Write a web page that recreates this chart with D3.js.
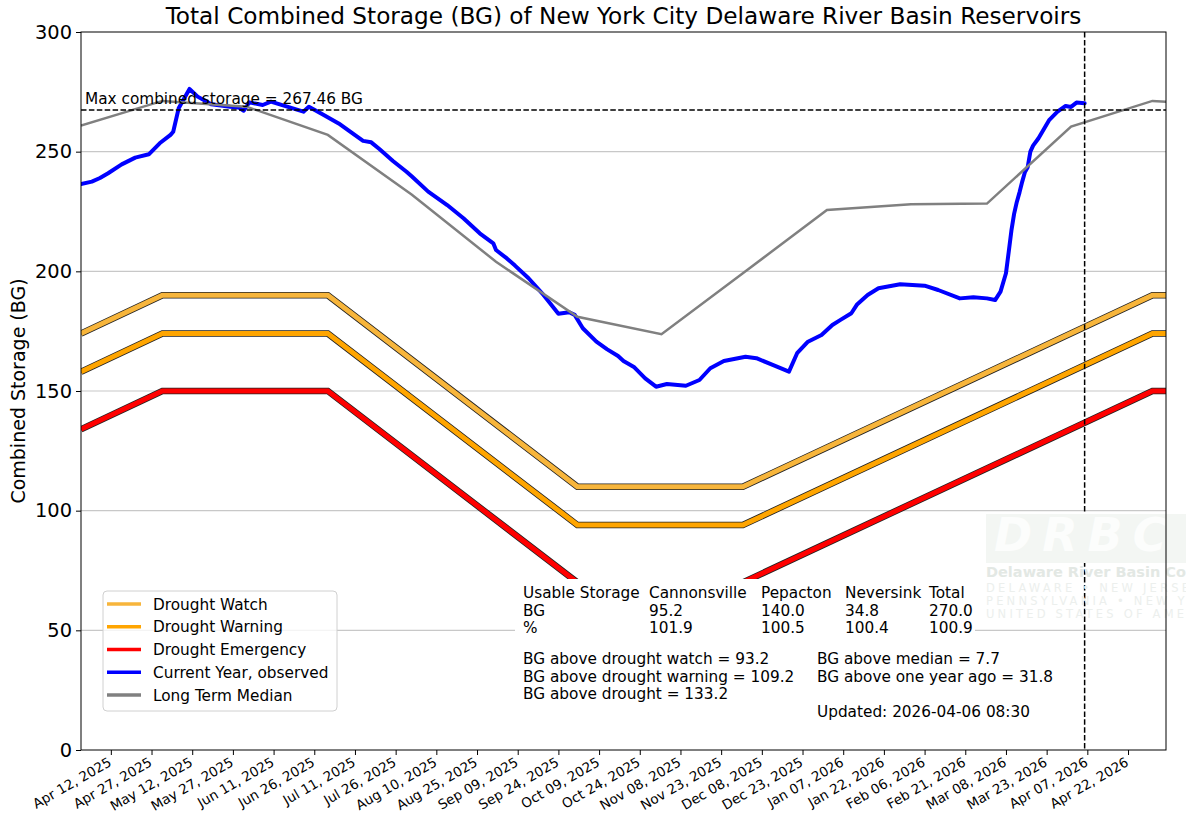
<!DOCTYPE html>
<html>
<head>
<meta charset="utf-8">
<script src="https://cdn.jsdelivr.net/npm/d3@7"></script>
<style>
body { margin:0; background:#fff; }
svg text { font-family: "DejaVu Sans", sans-serif; }
</style>
</head>
<body>
<div id="chart"></div>
<script>
const W = 1186, H = 817;
const m = {left: 81, right: 1166, top: 32, bottom: 750};
const parse = d3.utcParse('%Y-%m-%d');

// drought rule curves (BG)
const droughtDates = ['2025-04-01','2025-05-01','2025-07-01','2025-10-01','2025-12-01','2026-05-01','2026-06-01'];
const watchBG     = [174, 190, 190, 110, 110, 190, 190];
const warningBG   = [158, 174, 174,  94,  94, 174, 174];
const emergencyBG = [134, 150, 150,  70,  70, 150, 150];

// long term median (BG)
const medianDates = ['2025-04-01','2025-05-01','2025-06-01','2025-07-01','2025-08-01','2025-09-01','2025-10-01',
	'2025-11-01','2025-12-01','2026-01-01','2026-02-01','2026-03-01','2026-04-01','2026-05-01','2026-06-01'];
const medianBG = [260.9, 271.2, 268.8, 257.0, 232.0, 204.0, 181.0, 173.7, 199.2, 225.6, 228.0, 228.3, 260.5, 271.2, 268.8];

// current year, observed (BG)
const obsDates = ['2025-04-01','2025-04-05','2025-04-08','2025-04-11','2025-04-16','2025-04-21','2025-04-26','2025-04-30',
	'2025-05-04','2025-05-05','2025-05-07','2025-05-11','2025-05-14','2025-05-19','2025-05-26','2025-05-29','2025-05-31',
	'2025-06-02','2025-06-07','2025-06-10','2025-06-16','2025-06-22','2025-06-24','2025-06-29',
	'2025-07-05','2025-07-10','2025-07-14','2025-07-17','2025-07-20','2025-07-25','2025-07-30',
	'2025-08-01','2025-08-07','2025-08-14','2025-08-20','2025-08-26','2025-08-31',
	'2025-09-01','2025-09-05','2025-09-08','2025-09-13','2025-09-18','2025-09-24','2025-09-28','2025-09-30',
	'2025-10-03','2025-10-08','2025-10-12','2025-10-16','2025-10-18','2025-10-22','2025-10-26','2025-10-30',
	'2025-11-03','2025-11-10','2025-11-15','2025-11-19','2025-11-24',
	'2025-12-02','2025-12-06','2025-12-12','2025-12-18','2025-12-21','2025-12-25','2025-12-30',
	'2026-01-03','2026-01-06','2026-01-10','2026-01-12','2026-01-16','2026-01-20','2026-01-28',
	'2026-02-06','2026-02-11','2026-02-19','2026-02-24',
	'2026-03-01','2026-03-04','2026-03-06','2026-03-08','2026-03-09','2026-03-10','2026-03-11','2026-03-12','2026-03-13',
	'2026-03-14','2026-03-15','2026-03-16','2026-03-17','2026-03-18','2026-03-20','2026-03-22','2026-03-24','2026-03-27','2026-03-30',
	'2026-04-01','2026-04-03','2026-04-06'];
const obsBG = [236.5, 237.5, 239.0, 241.0, 244.7, 247.5, 248.9, 253.5,
	257.0, 258.3, 268.1, 276.2, 273.0, 269.8, 268.8, 268.5, 267.1,
	270.6, 269.5, 270.9, 268.8, 266.7, 268.8, 265.6,
	261.8, 257.7, 254.5, 253.9, 251.1, 246.1, 241.6,
	239.6, 233.3, 227.7, 222.2, 215.9, 211.7,
	208.9, 205.4, 202.4, 197.1, 190.8, 182.3, 182.9, 181.8,
	176.2, 170.6, 167.4, 164.6, 162.5, 159.9, 155.3, 151.8,
	152.9, 152.2, 154.6, 159.5, 162.5,
	164.3, 163.7, 160.9, 158.1, 165.8, 170.6, 173.4,
	177.6, 179.7, 182.5, 186.0, 190.1, 192.9, 194.6,
	194.0, 192.2, 188.7, 189.2,
	188.7, 188.0, 191.5, 199.2, 208.0, 217.0, 224.0, 229.0, 233.0,
	237.5, 241.5, 243.5, 250.0, 252.5, 255.6, 259.5, 263.3, 266.7, 269.1,
	268.7, 270.5, 270.2];

const maxStorage = 267.46;
const updated = '2026-04-06';

const xDomain = ['2025-04-01', '2026-05-06'];
const tickDates = ['2025-04-12','2025-04-27','2025-05-12','2025-05-27','2025-06-11','2025-06-26','2025-07-11','2025-07-26',
	'2025-08-10','2025-08-25','2025-09-09','2025-09-24','2025-10-09','2025-10-24','2025-11-08','2025-11-23','2025-12-08',
	'2025-12-23','2026-01-07','2026-01-22','2026-02-06','2026-02-21','2026-03-08','2026-03-23','2026-04-07','2026-04-22'];
const yTicks = [0, 50, 100, 150, 200, 250, 300];

const legendNames  = ['Drought Watch','Drought Warning','Drought Emergency','Current Year, observed','Long Term Median'];
const legendColors = ['#f7b53b','#ffa500','#ff0000','#0000ff','#808080'];

const tableRows = [
	['Usable Storage','Cannonsville','Pepacton','Neversink','Total'],
	['BG','95.2','140.0','34.8','270.0'],
	['%','101.9','100.5','100.4','100.9']
];
const notesLeft  = ['BG above drought watch = 93.2','BG above drought warning = 109.2','BG above drought = 133.2'];
const notesRight = ['BG above median = 7.7','BG above one year ago = 31.8','','Updated: 2026-04-06 08:30'];

const svg = d3.select('#chart').append('svg')
	.attr('width', W).attr('height', H)
	.style('background', '#fff');

var x = d3.scaleUtc().domain(xDomain.map(parse)).range([m.left, m.right]);
var y = d3.scaleLinear().domain([0, 300]).range([m.bottom, m.top]);

svg.append('clipPath').attr('id', 'plot-clip')
	.append('rect')
	.attr('x', m.left).attr('y', m.top)
	.attr('width', m.right - m.left).attr('height', m.bottom - m.top);

// grid
svg.append('g')
	.selectAll('line')
	.data(yTicks.slice(1, -1))
	.join('line')
		.attr('x1', m.left).attr('x2', m.right)
		.attr('y1', d => y(d)).attr('y2', d => y(d))
		.attr('stroke', '#c8c8c8')
		.attr('stroke-width', 1.2);

const plot = svg.append('g').attr('clip-path', 'url(#plot-clip)');

function series(dates, vals) {
	return dates.map((d, i) => [parse(d), vals[i]]);
}
const line = d3.line().x(d => x(d[0])).y(d => y(d[1]));

// drought curves with dark outline
[[watchBG, legendColors[0]], [warningBG, legendColors[1]], [emergencyBG, legendColors[2]]].forEach(([vals, col]) => {
	const s = series(droughtDates, vals);
	plot.append('path').attr('d', line(s))
		.attr('fill', 'none').attr('stroke', '#222').attr('stroke-width', 6.6);
	plot.append('path').attr('d', line(s))
		.attr('fill', 'none').attr('stroke', col).attr('stroke-width', 5);
});

plot.append('path')
	.attr('d', line(series(obsDates, obsBG)))
	.attr('fill', 'none')
	.attr('stroke', legendColors[3])
	.attr('stroke-width', 4)
	.attr('stroke-linejoin', 'round')
	.attr('stroke-linecap', 'round');

plot.append('path')
	.attr('d', line(series(medianDates, medianBG)))
	.attr('fill', 'none')
	.attr('stroke', legendColors[4])
	.attr('stroke-width', 2.5);

// max storage + today markers
plot.append('line')
	.attr('x1', m.left).attr('x2', m.right)
	.attr('y1', y(maxStorage)).attr('y2', y(maxStorage))
	.attr('stroke', '#000').attr('stroke-width', 1.5)
	.attr('stroke-dasharray', '5.5,2.4');
plot.append('line')
	.attr('x1', x(parse(updated))).attr('x2', x(parse(updated)))
	.attr('y1', m.top).attr('y2', m.bottom)
	.attr('stroke', '#000').attr('stroke-width', 1.5)
	.attr('stroke-dasharray', '5.5,2.4');

svg.append('text')
	.attr('x', m.left + 4).attr('y', y(maxStorage) - 6)
	.attr('font-size', 15.3)
	.text(`Max combined storage = ${maxStorage} BG`);

// watermark (DRBC logo, faint, runs off the right edge like the original)
const wm = svg.append('g').attr('class', 'watermark');
wm.append('rect')
	.attr('x', 986).attr('y', 514).attr('width', 200).attr('height', 49)
	.attr('fill', '#f3f6f3');
wm.append('text')
	.attr('x', 994).attr('y', 551)
	.attr('font-family', 'Liberation Serif')
	.attr('font-style', 'italic').attr('font-weight', 'bold')
	.attr('font-size', 46).attr('letter-spacing', 10)
	.attr('fill', '#fcfdfc')
	.text('DRBC');
wm.append('text')
	.attr('x', 986).attr('y', 577)
	.attr('font-family', 'Liberation Serif').attr('font-weight', 'bold')
	.attr('font-size', 14.5).attr('fill', '#e3e8e4')
	.text('Delaware River Basin Commission');
['DELAWARE   \u2022   NEW JERSEY', 'PENNSYLVANIA \u2022 NEW YORK', 'UNITED STATES OF AMERICA'].forEach((t, i) => {
	wm.append('text')
		.attr('x', 986).attr('y', 592 + i * 13)
		.attr('font-family', 'Liberation Serif')
		.attr('font-size', 11.5).attr('letter-spacing', 3.2)
		.attr('fill', '#ecefed')
		.text(t);
});

// table
svg.append('rect')
	.attr('x', 515).attr('y', 579).attr('width', 460).attr('height', 58)
	.attr('fill', '#fff');
const colX = [523, 649, 761, 845, 929];
tableRows.forEach((row, r) => {
	svg.append('g').selectAll('text')
		.data(row)
		.join('text')
			.attr('x', (d, i) => colX[i])
			.attr('y', 598 + r * 17.5)
			.attr('font-size', 15.3)
			.text(d => d);
});
svg.append('g').selectAll('text')
	.data(notesLeft)
	.join('text')
		.attr('x', 523).attr('y', (d, i) => 664 + i * 17.5)
		.attr('font-size', 15.3)
		.text(d => d);
svg.append('g').selectAll('text')
	.data(notesRight)
	.join('text')
		.attr('x', 817).attr('y', (d, i) => 664 + i * 17.5)
		.attr('font-size', 15.3)
		.text(d => d);

// axes
svg.append('rect')
	.attr('x', m.left).attr('y', m.top)
	.attr('width', m.right - m.left).attr('height', m.bottom - m.top)
	.attr('fill', 'none').attr('stroke', '#000').attr('stroke-width', 1);

const yAxis = svg.append('g')
	.attr('transform', `translate(${m.left},0)`)
	.call(d3.axisLeft(y).tickValues(yTicks).tickSize(5).tickPadding(4));
yAxis.select('.domain').remove();
yAxis.selectAll('text').attr('font-size', 19.4).attr('font-family', 'DejaVu Sans').attr('fill', '#000');

const xAxis = svg.append('g')
	.attr('transform', `translate(0,${m.bottom})`)
	.call(d3.axisBottom(x).tickValues(tickDates.map(parse)).tickSize(5).tickFormat(d3.utcFormat('%b %d, %Y')));
xAxis.select('.domain').remove();
xAxis.selectAll('text')
	.attr('font-size', 13.5).attr('font-family', 'DejaVu Sans').attr('fill', '#000')
	.attr('text-anchor', 'end')
	.attr('dy', null).attr('y', null)
	.attr('transform', 'translate(1,15) rotate(-30)');

svg.append('text')
	.attr('transform', `translate(25,${(m.top + m.bottom) / 2}) rotate(-90)`)
	.attr('text-anchor', 'middle')
	.attr('font-size', 19)
	.text('Combined Storage (BG)');

svg.append('text')
	.attr('x', (m.left + m.right) / 2).attr('y', 24)
	.attr('text-anchor', 'middle')
	.attr('font-size', 23.2)
	.text('Total Combined Storage (BG) of New York City Delaware River Basin Reservoirs');

// legend
const lg = svg.append('g').attr('transform', 'translate(103,591)');
lg.append('rect')
	.attr('width', 234).attr('height', 120).attr('rx', 4)
	.attr('fill', '#fff').attr('fill-opacity', 0.8)
	.attr('stroke', '#d0d0d0');
const items = lg.selectAll('g.item')
	.data(legendNames)
	.join('g')
		.attr('class', 'item')
		.attr('transform', (d, i) => `translate(0,${13 + i * 22.75})`);
items.append('line')
	.attr('x1', 4).attr('x2', 38)
	.attr('stroke', (d, i) => legendColors[i])
	.attr('stroke-width', 3.3);
items.append('text')
	.attr('x', 50).attr('dy', '0.36em')
	.attr('font-size', 15.3)
	.text(d => d);
</script>
</body>
</html>
